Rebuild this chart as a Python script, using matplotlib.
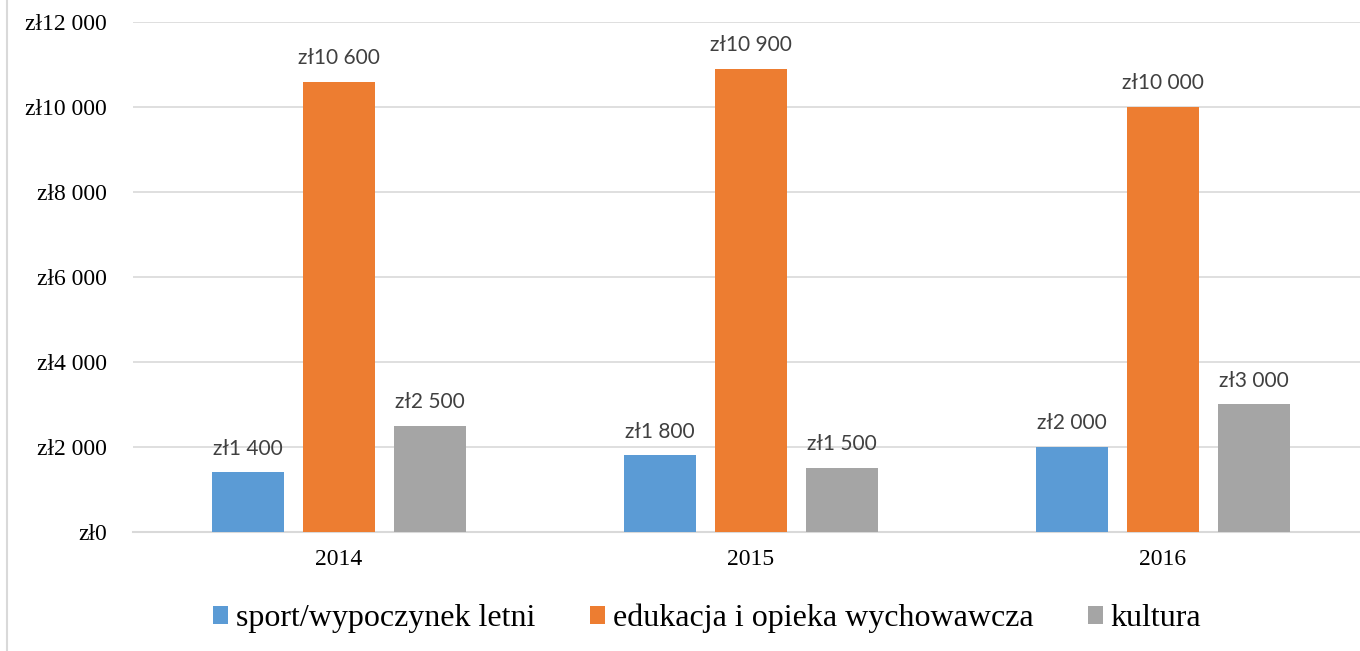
import matplotlib.pyplot as plt
import numpy as np
from matplotlib.lines import Line2D

years = ['2014', '2015', '2016']
series = ['sport/wypoczynek letni', 'edukacja i opieka wychowawcza', 'kultura']
sport = [1400, 1800, 2000]
edukacja = [10600, 10900, 10000]
kultura = [2500, 1500, 3000]
colors = ['#5B9BD5', '#ED7D31', '#A5A5A5']
yticks = [0, 2000, 4000, 6000, 8000, 10000, 12000]


def zl(v):
    return 'zł' + f'{v:,}'.replace(',', ' ')


fig = plt.figure(figsize=(13.6, 6.51), dpi=100)
ax = fig.add_axes([0.0978, 0.1828, 0.9088, 0.7834])

x = np.arange(len(years))
width = 0.175
step = 0.221
for i, (name, vals) in enumerate(zip(series, [sport, edukacja, kultura])):
    pos = x + (i - 1) * step
    bars = ax.bar(pos, vals, width, color=colors[i], label=name, zorder=3)
    for b, v in zip(bars, vals):
        ax.annotate(zl(v), (b.get_x() + b.get_width() / 2, v),
                    xytext=(0, 10), textcoords='offset points',
                    ha='center', va='bottom', fontsize=15,
                    family='Lato', color='#404040')

ax.set_xlim(-0.5, 2.5)
ax.set_ylim(0, 12000)
ax.set_yticks(yticks)
ax.set_yticklabels([zl(v) for v in yticks], family='Liberation Serif', fontsize=17)
ax.set_xticks(x)
ax.set_xticklabels(years, family='Liberation Serif', fontsize=17)
ax.tick_params(length=0)
ax.tick_params(axis='y', pad=19)
ax.tick_params(axis='x', pad=12)
ax.grid(axis='y', color='#D9D9D9', linewidth=1.2, zorder=0)
for s in ['top', 'right', 'left']:
    ax.spines[s].set_visible(False)
ax.spines['bottom'].set_color('#D9D9D9')
ax.spines['bottom'].set_linewidth(1.5)

leg = fig.legend(loc='center', bbox_to_anchor=(0.52, 0.05), ncol=3, frameon=False,
                 prop={'family': 'Liberation Serif', 'size': 23},
                 handlelength=0.47, handleheight=0.47, handletextpad=0.25,
                 columnspacing=1.7)

fig.add_artist(Line2D([0.0048, 0.0048], [0, 1], color='#D9D9D9', linewidth=1.5))

fig.savefig('out.png')
plt.close(fig)
